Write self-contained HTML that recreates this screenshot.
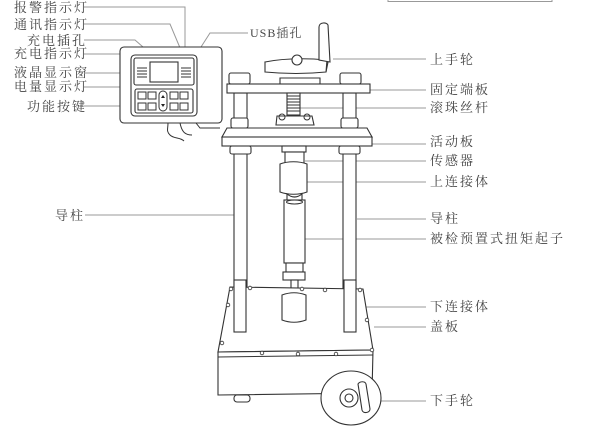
<!DOCTYPE html>
<html><head><meta charset="utf-8"><style>
html,body{margin:0;padding:0;background:#fff;width:607px;height:430px;overflow:hidden}
svg{display:block}
text{font-family:"Liberation Serif","Noto Serif CJK SC","Noto Sans CJK SC",serif;font-size:13px;fill:#444;letter-spacing:2px}
.l{stroke:#999;stroke-width:1;fill:none}
.d{stroke:#333;stroke-width:1.1;fill:#fff}
.n{stroke:#333;stroke-width:1;fill:none}
</style></head><body>
<svg width="607" height="430" viewBox="0 0 607 430">
<!-- top right table fragment -->
<path class="l" d="M388 0V1.5H552V0"/>
<!-- left labels -->
<text x="14" y="12">报警指示灯</text>
<text x="14" y="29">通讯指示灯</text>
<text x="27" y="45">充电插孔</text>
<text x="14" y="58">充电指示灯</text>
<text x="14" y="77">液晶显示窗</text>
<text x="14" y="91">电量显示灯</text>
<text x="27" y="111">功能按键</text>
<text x="55" y="220">导柱</text>
<path class="l" d="M84 7H185V57M84 24H170L183 55M84 40H135L143 47M84 54H140M84 73H140M84 87H142M84 106H139M85 215H234"/>
<text x="250" y="37" style="font-size:12px;letter-spacing:1px">USB插孔</text>
<path class="l" d="M248 33H210L201 47"/>
<!-- right labels -->
<text x="430" y="64">上手轮</text>
<text x="430" y="94">固定端板</text>
<text x="430" y="112">滚珠丝杆</text>
<text x="430" y="146">活动板</text>
<text x="430" y="165">传感器</text>
<text x="430" y="186">上连接体</text>
<text x="430" y="223">导柱</text>
<text x="430" y="243">被检预置式扭矩起子</text>
<text x="430" y="311">下连接体</text>
<text x="430" y="331">盖板</text>
<text x="430" y="405">下手轮</text>
<path class="l" d="M333 59H426M370 90H426M296 108H426M372 144H426M305 161H426M307 182H426M357 219H426M305 239H426M306 307H426M374 327H426M370 401H426"/>
<!-- controller -->
<rect class="d" x="120" y="47" width="102" height="76" rx="4"/>
<rect class="d" x="131" y="55" width="66" height="61" rx="4"/>
<rect class="d" x="134" y="58" width="60" height="27" rx="2"/>
<rect class="d" x="150" y="62" width="28" height="20"/>
<path class="n" d="M137 68h10M137 71h10M137 74h10M137 77h10M181 68h10M181 71h10M181 74h10M181 77h10" stroke-width=".8"/>
<rect class="d" x="135" y="89" width="58" height="24" rx="2"/>
<g class="n" stroke-width=".8">
<rect x="138" y="92" width="8" height="7"/><rect x="148" y="92" width="8" height="7"/><rect x="170" y="92" width="8" height="7"/><rect x="180" y="92" width="8" height="7"/>
<rect x="138" y="103" width="8" height="7"/><rect x="148" y="103" width="8" height="7"/><rect x="170" y="103" width="8" height="7"/><rect x="180" y="103" width="8" height="7"/>
<rect x="159" y="91" width="8" height="20" rx="4"/></g>
<path d="M161 98l2-3 2 3zM161 104l2 3 2-3z" fill="#222"/>
<path class="n" d="M168 123c0 6-2 8 2 12s10 2 14 6M180 123c2 10 6 12 12 12M196 123l4 5h20"/>
<!-- posts -->
<rect class="d" x="234" y="93" width="13" height="237"/>
<rect class="d" x="343" y="93" width="13" height="237"/>
<rect class="d" x="230" y="146" width="21" height="8" rx="2"/>
<rect class="d" x="339" y="146" width="21" height="8" rx="2"/>
<!-- top handwheel -->
<rect class="d" x="229" y="73" width="21" height="11" rx="2"/>
<rect class="d" x="340" y="73" width="21" height="11" rx="2"/>
<path class="d" d="M265 62h63l-2 10h-60z"/>
<path class="d" d="M265 62c20-4 40-4 62-2l-1 12c-20 2-40 2-61 0z"/>
<circle class="d" cx="297" cy="60" r="5"/>
<path class="d" d="M319 60l0-33c0-5 8-5 9-2l2 37z"/>
<path class="d" d="M280 78h40v6h-40z"/>
<!-- fixed plate -->
<rect class="d" x="227" y="84" width="143" height="9"/>
<!-- leadscrew -->
<rect class="d" x="287" y="93" width="13" height="22"/>
<path class="n" d="M287 96h13M287 99h13M287 102h13M287 105h13M287 108h13M287 111h13"/>
<path class="d" d="M277 116h35l2 9h-38z"/>
<circle class="n" cx="282" cy="117" r="3"/><circle class="n" cx="307" cy="117" r="3"/>
<rect class="d" x="231" y="118" width="17" height="10" rx="2"/>
<rect class="d" x="341" y="118" width="17" height="10" rx="2"/>
<!-- moving plate -->
<path class="d" d="M227 128h140l5 9h-150z"/>
<rect class="d" x="222" y="137" width="150" height="9"/>
<!-- sensor / connectors -->
<rect class="d" x="282" y="146" width="24" height="6"/>
<rect class="d" x="285" y="152" width="19" height="12"/>
<path class="d" d="M280 164c8-3 19-3 27 0v28c-8 3-19 3-27 0z"/>
<path class="d" d="M287 194c5 4 10 4 15 0v6h-15z"/>
<rect class="d" x="284" y="200" width="21" height="63"/>
<ellipse class="n" cx="294.5" cy="202" rx="8" ry="2"/>
<rect class="d" x="286" y="263" width="17" height="9"/>
<rect class="d" x="283" y="272" width="22" height="8"/>
<rect class="d" x="291" y="280" width="7" height="10"/>
<!-- base -->
<path class="d" d="M230 287L363 289L373 350L218 352z"/>
<path class="d" d="M218 352L373 350L372 393L218 395z"/>
<path class="n" d="M218 357L373 355"/>
<rect class="d" x="234" y="280" width="12" height="52"/>
<rect class="d" x="344" y="280" width="12" height="52"/>
<g fill="#fff" stroke="#333" stroke-width=".8">
<circle cx="231" cy="289" r="1.8"/><circle cx="250" cy="288" r="1.8"/><circle cx="302" cy="289" r="1.8"/><circle cx="325" cy="290" r="1.8"/><circle cx="360" cy="290" r="1.8"/>
<circle cx="228" cy="305" r="1.8"/><circle cx="367" cy="320" r="1.8"/><circle cx="222" cy="343" r="1.8"/><circle cx="262" cy="353" r="1.8"/><circle cx="298" cy="354" r="1.8"/><circle cx="336" cy="354" r="1.8"/><circle cx="372" cy="350" r="1.8"/></g>
<path class="d" d="M282 295c8-3 16-3 24 0v25c-8 3-16 3-24 0z"/>
<rect class="d" x="234" y="395" width="16" height="7" rx="3"/>
<!-- bottom handwheel -->
<ellipse class="d" cx="351" cy="398" rx="30" ry="27"/>
<circle class="d" cx="349" cy="398" r="9"/>
<circle class="d" cx="349" cy="398" r="4"/>
<path class="d" d="M358 384c2-3 7-3 8 0l4 25c0 4-7 5-8 1z"/>
</svg>
</body></html>
